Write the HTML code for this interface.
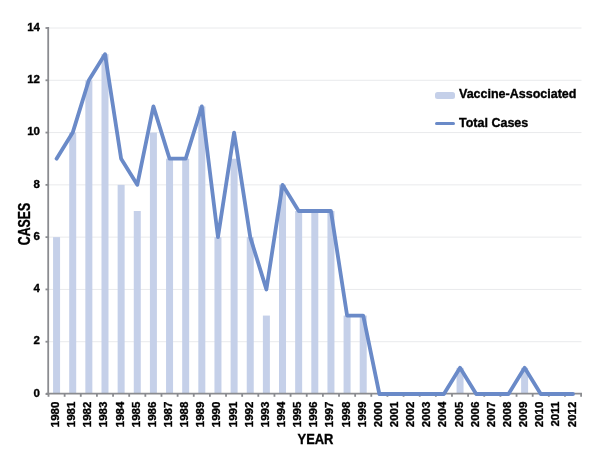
<!DOCTYPE html>
<html><head><meta charset="utf-8"><style>
html,body{margin:0;padding:0;background:#fff;width:600px;height:459px;overflow:hidden}
svg{display:block;will-change:transform}
.t{font-family:"Liberation Sans",sans-serif;font-weight:bold;fill:#000;stroke:#000;stroke-width:0.35px}
</style></head><body>
<svg width="600" height="459" viewBox="0 0 600 459">
<line x1="49" y1="341.71" x2="581.5" y2="341.71" stroke="#e9eaec" stroke-width="1"/>
<line x1="49" y1="289.43" x2="581.5" y2="289.43" stroke="#e9eaec" stroke-width="1"/>
<line x1="49" y1="237.14" x2="581.5" y2="237.14" stroke="#e9eaec" stroke-width="1"/>
<line x1="49" y1="184.86" x2="581.5" y2="184.86" stroke="#e9eaec" stroke-width="1"/>
<line x1="49" y1="132.57" x2="581.5" y2="132.57" stroke="#e9eaec" stroke-width="1"/>
<line x1="49" y1="80.29" x2="581.5" y2="80.29" stroke="#e9eaec" stroke-width="1"/>
<line x1="49" y1="28.00" x2="581.5" y2="28.00" stroke="#e9eaec" stroke-width="1"/>
<rect x="53.07" y="237.14" width="7" height="155.86" fill="#c5d0e9"/>
<rect x="69.21" y="132.57" width="7" height="260.43" fill="#c5d0e9"/>
<rect x="85.35" y="80.29" width="7" height="312.71" fill="#c5d0e9"/>
<rect x="101.49" y="54.14" width="7" height="338.86" fill="#c5d0e9"/>
<rect x="117.63" y="184.86" width="7" height="208.14" fill="#c5d0e9"/>
<rect x="133.77" y="211.00" width="7" height="182.00" fill="#c5d0e9"/>
<rect x="149.91" y="132.57" width="7" height="260.43" fill="#c5d0e9"/>
<rect x="166.05" y="158.71" width="7" height="234.29" fill="#c5d0e9"/>
<rect x="182.18" y="158.71" width="7" height="234.29" fill="#c5d0e9"/>
<rect x="198.32" y="106.43" width="7" height="286.57" fill="#c5d0e9"/>
<rect x="214.46" y="237.14" width="7" height="155.86" fill="#c5d0e9"/>
<rect x="230.60" y="158.71" width="7" height="234.29" fill="#c5d0e9"/>
<rect x="246.74" y="237.14" width="7" height="155.86" fill="#c5d0e9"/>
<rect x="262.88" y="315.57" width="7" height="77.43" fill="#c5d0e9"/>
<rect x="279.02" y="184.86" width="7" height="208.14" fill="#c5d0e9"/>
<rect x="295.16" y="211.00" width="7" height="182.00" fill="#c5d0e9"/>
<rect x="311.30" y="211.00" width="7" height="182.00" fill="#c5d0e9"/>
<rect x="327.44" y="211.00" width="7" height="182.00" fill="#c5d0e9"/>
<rect x="343.58" y="315.57" width="7" height="77.43" fill="#c5d0e9"/>
<rect x="359.72" y="315.57" width="7" height="77.43" fill="#c5d0e9"/>
<rect x="456.55" y="367.86" width="7" height="25.14" fill="#c5d0e9"/>
<rect x="521.11" y="367.86" width="7" height="25.14" fill="#c5d0e9"/>
<line x1="48.2" y1="27" x2="48.2" y2="395" stroke="#8b8c90" stroke-width="1.8"/>
<line x1="46" y1="393.6" x2="582" y2="393.6" stroke="#8b8c90" stroke-width="1.7"/>
<line x1="45.5" y1="394.00" x2="48" y2="394.00" stroke="#8b8c90" stroke-width="1.8"/>
<line x1="45.5" y1="341.71" x2="48" y2="341.71" stroke="#8b8c90" stroke-width="1.8"/>
<line x1="45.5" y1="289.43" x2="48" y2="289.43" stroke="#8b8c90" stroke-width="1.8"/>
<line x1="45.5" y1="237.14" x2="48" y2="237.14" stroke="#8b8c90" stroke-width="1.8"/>
<line x1="45.5" y1="184.86" x2="48" y2="184.86" stroke="#8b8c90" stroke-width="1.8"/>
<line x1="45.5" y1="132.57" x2="48" y2="132.57" stroke="#8b8c90" stroke-width="1.8"/>
<line x1="45.5" y1="80.29" x2="48" y2="80.29" stroke="#8b8c90" stroke-width="1.8"/>
<line x1="45.5" y1="28.00" x2="48" y2="28.00" stroke="#8b8c90" stroke-width="1.8"/>
<line x1="48.50" y1="394" x2="48.50" y2="396.8" stroke="#8b8c90" stroke-width="1.8"/>
<line x1="64.64" y1="394" x2="64.64" y2="396.8" stroke="#8b8c90" stroke-width="1.8"/>
<line x1="80.78" y1="394" x2="80.78" y2="396.8" stroke="#8b8c90" stroke-width="1.8"/>
<line x1="96.92" y1="394" x2="96.92" y2="396.8" stroke="#8b8c90" stroke-width="1.8"/>
<line x1="113.06" y1="394" x2="113.06" y2="396.8" stroke="#8b8c90" stroke-width="1.8"/>
<line x1="129.20" y1="394" x2="129.20" y2="396.8" stroke="#8b8c90" stroke-width="1.8"/>
<line x1="145.34" y1="394" x2="145.34" y2="396.8" stroke="#8b8c90" stroke-width="1.8"/>
<line x1="161.48" y1="394" x2="161.48" y2="396.8" stroke="#8b8c90" stroke-width="1.8"/>
<line x1="177.62" y1="394" x2="177.62" y2="396.8" stroke="#8b8c90" stroke-width="1.8"/>
<line x1="193.75" y1="394" x2="193.75" y2="396.8" stroke="#8b8c90" stroke-width="1.8"/>
<line x1="209.89" y1="394" x2="209.89" y2="396.8" stroke="#8b8c90" stroke-width="1.8"/>
<line x1="226.03" y1="394" x2="226.03" y2="396.8" stroke="#8b8c90" stroke-width="1.8"/>
<line x1="242.17" y1="394" x2="242.17" y2="396.8" stroke="#8b8c90" stroke-width="1.8"/>
<line x1="258.31" y1="394" x2="258.31" y2="396.8" stroke="#8b8c90" stroke-width="1.8"/>
<line x1="274.45" y1="394" x2="274.45" y2="396.8" stroke="#8b8c90" stroke-width="1.8"/>
<line x1="290.59" y1="394" x2="290.59" y2="396.8" stroke="#8b8c90" stroke-width="1.8"/>
<line x1="306.73" y1="394" x2="306.73" y2="396.8" stroke="#8b8c90" stroke-width="1.8"/>
<line x1="322.87" y1="394" x2="322.87" y2="396.8" stroke="#8b8c90" stroke-width="1.8"/>
<line x1="339.01" y1="394" x2="339.01" y2="396.8" stroke="#8b8c90" stroke-width="1.8"/>
<line x1="355.15" y1="394" x2="355.15" y2="396.8" stroke="#8b8c90" stroke-width="1.8"/>
<line x1="371.29" y1="394" x2="371.29" y2="396.8" stroke="#8b8c90" stroke-width="1.8"/>
<line x1="387.43" y1="394" x2="387.43" y2="396.8" stroke="#8b8c90" stroke-width="1.8"/>
<line x1="403.57" y1="394" x2="403.57" y2="396.8" stroke="#8b8c90" stroke-width="1.8"/>
<line x1="419.71" y1="394" x2="419.71" y2="396.8" stroke="#8b8c90" stroke-width="1.8"/>
<line x1="435.85" y1="394" x2="435.85" y2="396.8" stroke="#8b8c90" stroke-width="1.8"/>
<line x1="451.98" y1="394" x2="451.98" y2="396.8" stroke="#8b8c90" stroke-width="1.8"/>
<line x1="468.12" y1="394" x2="468.12" y2="396.8" stroke="#8b8c90" stroke-width="1.8"/>
<line x1="484.26" y1="394" x2="484.26" y2="396.8" stroke="#8b8c90" stroke-width="1.8"/>
<line x1="500.40" y1="394" x2="500.40" y2="396.8" stroke="#8b8c90" stroke-width="1.8"/>
<line x1="516.54" y1="394" x2="516.54" y2="396.8" stroke="#8b8c90" stroke-width="1.8"/>
<line x1="532.68" y1="394" x2="532.68" y2="396.8" stroke="#8b8c90" stroke-width="1.8"/>
<line x1="548.82" y1="394" x2="548.82" y2="396.8" stroke="#8b8c90" stroke-width="1.8"/>
<line x1="564.96" y1="394" x2="564.96" y2="396.8" stroke="#8b8c90" stroke-width="1.8"/>
<line x1="581.10" y1="394" x2="581.10" y2="396.8" stroke="#8b8c90" stroke-width="1.8"/>
<polyline points="56.57,158.71 72.71,132.57 88.85,80.29 104.99,54.14 121.13,158.71 137.27,184.86 153.41,106.43 169.55,158.71 185.68,158.71 201.82,106.43 217.96,237.14 234.10,132.57 250.24,237.14 266.38,289.43 282.52,184.86 298.66,211.00 314.80,211.00 330.94,211.00 347.08,315.57 363.22,315.57 379.36,394.00 395.50,394.00 411.64,394.00 427.78,394.00 443.92,394.00 460.05,367.86 476.19,394.00 492.33,394.00 508.47,394.00 524.61,367.86 540.75,394.00 556.89,394.00 573.03,394.00" fill="none" stroke="#6a8ac8" stroke-width="3.8" stroke-linejoin="round" stroke-linecap="round"/>
<text x="40" y="396.70" text-anchor="end" class="t" font-size="11.5">0</text>
<text x="40" y="344.41" text-anchor="end" class="t" font-size="11.5">2</text>
<text x="40" y="292.13" text-anchor="end" class="t" font-size="11.5">4</text>
<text x="40" y="239.84" text-anchor="end" class="t" font-size="11.5">6</text>
<text x="40" y="187.56" text-anchor="end" class="t" font-size="11.5">8</text>
<text x="40" y="135.27" text-anchor="end" class="t" font-size="11.5">10</text>
<text x="40" y="82.99" text-anchor="end" class="t" font-size="11.5">12</text>
<text x="40" y="30.70" text-anchor="end" class="t" font-size="11.5">14</text>
<text transform="translate(59.07,401.6) rotate(-90)" text-anchor="end" class="t" font-size="11.5">1980</text>
<text transform="translate(75.21,401.6) rotate(-90)" text-anchor="end" class="t" font-size="11.5">1981</text>
<text transform="translate(91.35,401.6) rotate(-90)" text-anchor="end" class="t" font-size="11.5">1982</text>
<text transform="translate(107.49,401.6) rotate(-90)" text-anchor="end" class="t" font-size="11.5">1983</text>
<text transform="translate(123.63,401.6) rotate(-90)" text-anchor="end" class="t" font-size="11.5">1984</text>
<text transform="translate(139.77,401.6) rotate(-90)" text-anchor="end" class="t" font-size="11.5">1985</text>
<text transform="translate(155.91,401.6) rotate(-90)" text-anchor="end" class="t" font-size="11.5">1986</text>
<text transform="translate(172.05,401.6) rotate(-90)" text-anchor="end" class="t" font-size="11.5">1987</text>
<text transform="translate(188.18,401.6) rotate(-90)" text-anchor="end" class="t" font-size="11.5">1988</text>
<text transform="translate(204.32,401.6) rotate(-90)" text-anchor="end" class="t" font-size="11.5">1989</text>
<text transform="translate(220.46,401.6) rotate(-90)" text-anchor="end" class="t" font-size="11.5">1990</text>
<text transform="translate(236.60,401.6) rotate(-90)" text-anchor="end" class="t" font-size="11.5">1991</text>
<text transform="translate(252.74,401.6) rotate(-90)" text-anchor="end" class="t" font-size="11.5">1992</text>
<text transform="translate(268.88,401.6) rotate(-90)" text-anchor="end" class="t" font-size="11.5">1993</text>
<text transform="translate(285.02,401.6) rotate(-90)" text-anchor="end" class="t" font-size="11.5">1994</text>
<text transform="translate(301.16,401.6) rotate(-90)" text-anchor="end" class="t" font-size="11.5">1995</text>
<text transform="translate(317.30,401.6) rotate(-90)" text-anchor="end" class="t" font-size="11.5">1996</text>
<text transform="translate(333.44,401.6) rotate(-90)" text-anchor="end" class="t" font-size="11.5">1997</text>
<text transform="translate(349.58,401.6) rotate(-90)" text-anchor="end" class="t" font-size="11.5">1998</text>
<text transform="translate(365.72,401.6) rotate(-90)" text-anchor="end" class="t" font-size="11.5">1999</text>
<text transform="translate(381.86,401.6) rotate(-90)" text-anchor="end" class="t" font-size="11.5">2000</text>
<text transform="translate(398.00,401.6) rotate(-90)" text-anchor="end" class="t" font-size="11.5">2001</text>
<text transform="translate(414.14,401.6) rotate(-90)" text-anchor="end" class="t" font-size="11.5">2002</text>
<text transform="translate(430.28,401.6) rotate(-90)" text-anchor="end" class="t" font-size="11.5">2003</text>
<text transform="translate(446.42,401.6) rotate(-90)" text-anchor="end" class="t" font-size="11.5">2004</text>
<text transform="translate(462.55,401.6) rotate(-90)" text-anchor="end" class="t" font-size="11.5">2005</text>
<text transform="translate(478.69,401.6) rotate(-90)" text-anchor="end" class="t" font-size="11.5">2006</text>
<text transform="translate(494.83,401.6) rotate(-90)" text-anchor="end" class="t" font-size="11.5">2007</text>
<text transform="translate(510.97,401.6) rotate(-90)" text-anchor="end" class="t" font-size="11.5">2008</text>
<text transform="translate(527.11,401.6) rotate(-90)" text-anchor="end" class="t" font-size="11.5">2009</text>
<text transform="translate(543.25,401.6) rotate(-90)" text-anchor="end" class="t" font-size="11.5">2010</text>
<text transform="translate(559.39,401.6) rotate(-90)" text-anchor="end" class="t" font-size="11.5">2011</text>
<text transform="translate(575.53,401.6) rotate(-90)" text-anchor="end" class="t" font-size="11.5">2012</text>
<text transform="translate(30,224) rotate(-90) scale(0.77,1)" text-anchor="middle" class="t" font-size="16">CASES</text>
<text transform="translate(315.5,444) scale(0.88,1)" text-anchor="middle" class="t" font-size="14.7">YEAR</text>
<rect x="435" y="92" width="20" height="7" rx="2.5" fill="#c5d0e9"/>
<line x1="436.5" y1="123.5" x2="453.5" y2="123.5" stroke="#6a8ac8" stroke-width="3" stroke-linecap="round"/>
<text x="459" y="98" class="t" font-size="12.5">Vaccine-Associated</text>
<text x="459" y="127" class="t" font-size="12.5">Total Cases</text>
</svg>
</body></html>
